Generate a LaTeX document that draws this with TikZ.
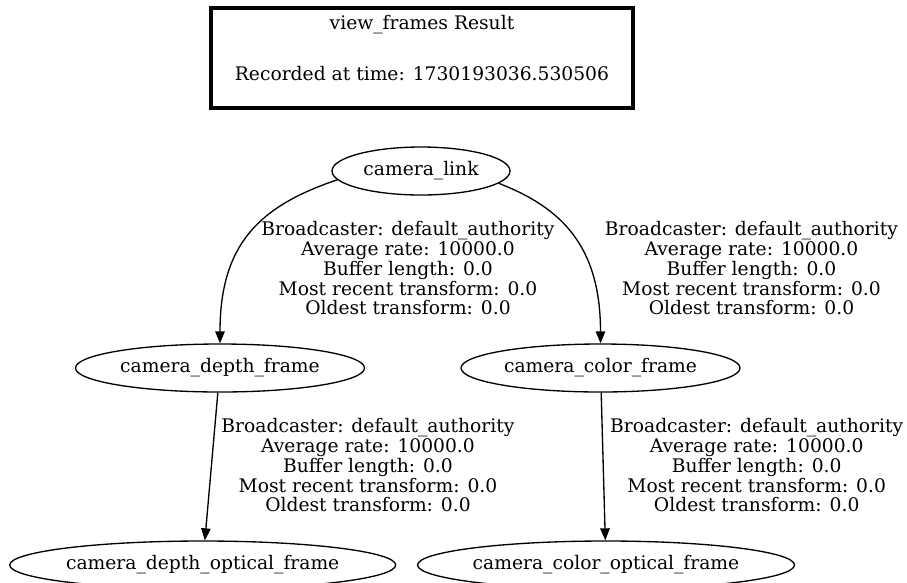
\documentclass[tikz,border=0pt]{standalone}
\usepackage{fontspec}
\setmainfont{DejaVu Serif}
\usetikzlibrary{shapes.geometric,arrows.meta}

% frame names are centred in zero width so the ellipse keeps its given size
\newcommand{\framelabel}[1]{\makebox[0pt]{#1}}

\begin{document}
\begin{tikzpicture}[x=1pt,y=-1pt,
  every node/.style={font=\fontsize{18.7}{19.8}\selectfont},
  tfnode/.style={ellipse, draw, line width=1.33pt, inner sep=0pt, minimum height=48pt},
  edgetext/.style={align=center, inner sep=0pt},
  tfedge/.style={draw, line width=1.33pt, -{Triangle[length=12pt,width=9.5pt]}},
  titlebox/.style={rectangle, draw, line width=3.2pt, minimum width=422pt, minimum height=100pt, inner sep=0pt},
]
\fill[white] (0,0) rectangle (907,582);
\useasboundingbox (0,0) rectangle (907,582);

% header box
\node[titlebox] (title) at (422,58) {};
\node[anchor=base] (titlehead) at (422,29.5) {view\_frames Result};
\node[anchor=base] (titletime) at (422,80) {Recorded at time: 1730193036.530506};

% frames
\node[tfnode, minimum width=178pt] (link) at (421,171) {\framelabel{camera\_link}};
\node[tfnode, minimum width=289pt] (depth) at (220,368) {\framelabel{camera\_depth\_frame}};
\node[tfnode, minimum width=279pt] (color) at (600.5,368) {\framelabel{camera\_color\_frame}};
\node[tfnode, minimum width=386pt] (depthopt) at (202.7,565) {\framelabel{camera\_depth\_optical\_frame}};
\node[tfnode, minimum width=377pt] (coloropt) at (606,565) {\framelabel{camera\_color\_optical\_frame}};

% transforms
\draw[tfedge] (link.186) .. controls +(-77,26) and +(0,-100) .. (depth.north);
\draw[tfedge] (link.351) .. controls +(62,24) and +(0,-98) .. (color.north);
\draw[tfedge] (depth) -- (depthopt);
\draw[tfedge] (color) -- (coloropt);

% transform details
\node[edgetext] (lab1) at (408,268.3) {Broadcaster: default\_authority\\Average rate: 10000.0\\Buffer length: 0.0\\Most recent transform: 0.0\\Oldest transform: 0.0};
\node[edgetext] (lab2) at (751.5,268.3) {Broadcaster: default\_authority\\Average rate: 10000.0\\Buffer length: 0.0\\Most recent transform: 0.0\\Oldest transform: 0.0};
\node[edgetext] (lab3) at (368,465.3) {Broadcaster: default\_authority\\Average rate: 10000.0\\Buffer length: 0.0\\Most recent transform: 0.0\\Oldest transform: 0.0};
\node[edgetext] (lab4) at (756.7,465.3) {Broadcaster: default\_authority\\Average rate: 10000.0\\Buffer length: 0.0\\Most recent transform: 0.0\\Oldest transform: 0.0};
\end{tikzpicture}
\end{document}
